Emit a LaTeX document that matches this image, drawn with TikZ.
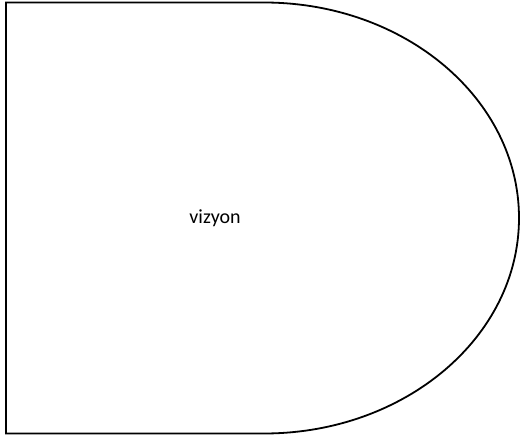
\documentclass[tikz,border=0pt]{standalone}
\usepackage{fontspec}
\setmainfont{Carlito}
\usetikzlibrary{calc}
\begin{document}
\begin{tikzpicture}[x=1pt,y=1pt,delay/.style={draw=black, line width=1.8pt, fill=white, line join=miter}]
    \tikzset{label/.style={inner sep=0pt, font=\fontsize{20}{24}\selectfont}}
    \useasboundingbox (0,0) rectangle (520,440);
    \def \lx {6} \def \mx {264} \def \rx {255} \def \ry {215.5} \def \cy {222}
    % straight part on the left, half ellipse on the right
    \draw[delay] (\mx,\cy+\ry) -- (\lx,\cy+\ry) -- (\lx,\cy-\ry) -- (\mx,\cy-\ry)
        arc (-90:90:\rx pt and \ry pt);
    \node[label] (vizyon) at (215,222) {vizyon};
\end{tikzpicture}
\end{document}
